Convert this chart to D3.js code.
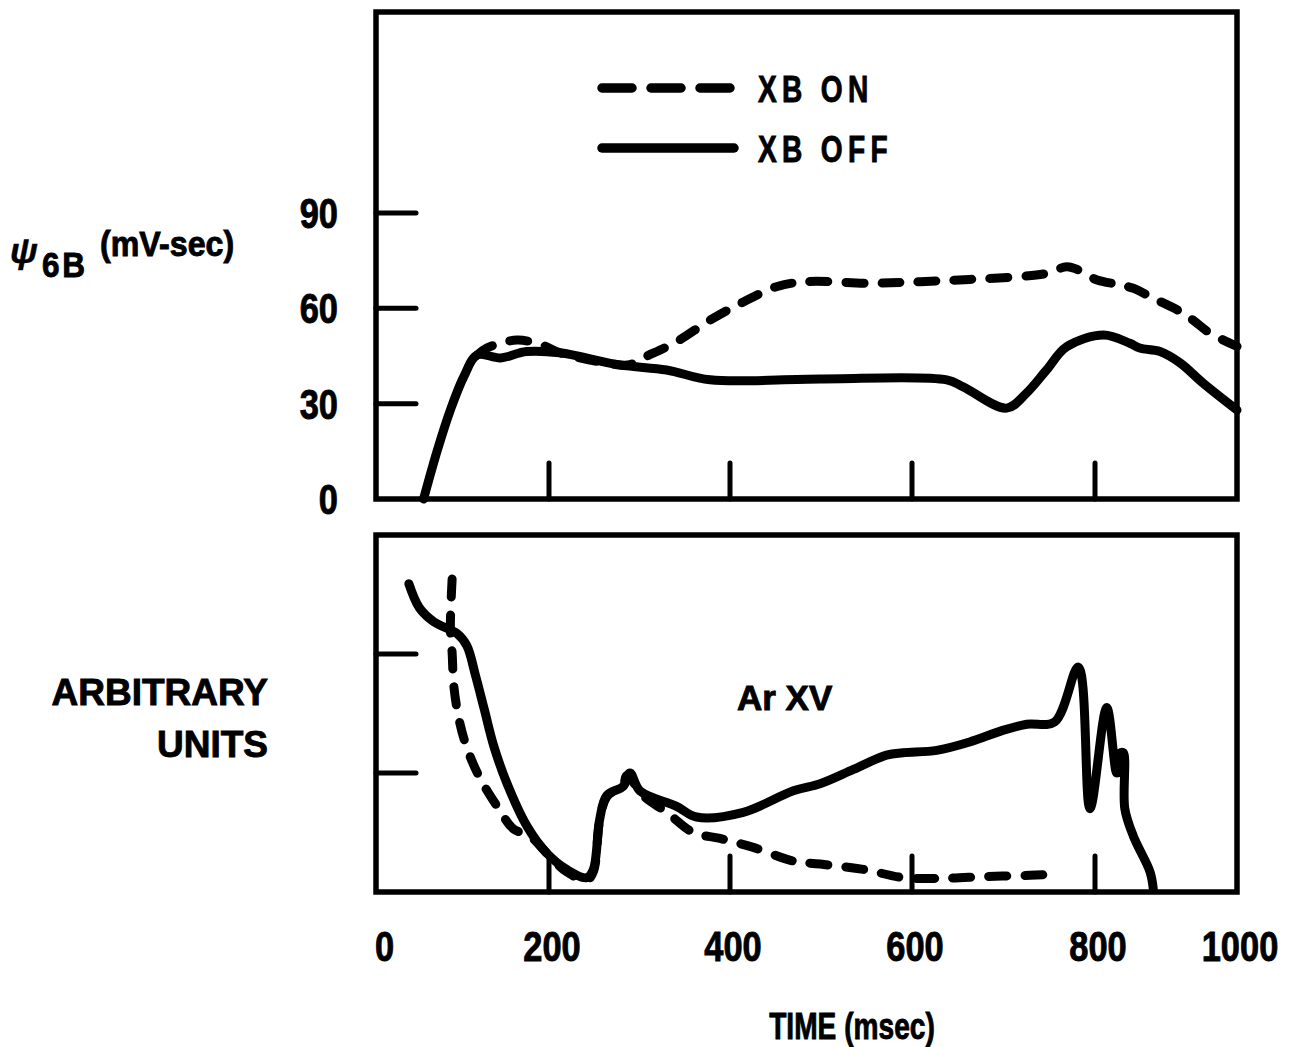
<!DOCTYPE html>
<html>
<head>
<meta charset="utf-8">
<script src="https://cdn.jsdelivr.net/npm/d3@7"></script>
<style>
  html, body { margin: 0; padding: 0; background: #fff; }
  svg { display: block; }
  text { font-family: "Liberation Sans", Arial, sans-serif; font-weight: bold; fill: #000; stroke: #000; stroke-width: 0.9px; }
</style>
</head>
<body>
<svg id="chart" width="1292" height="1047"></svg>
<script>
// ---------------- DATA ----------------
const xTickValues = [0, 200, 400, 600, 800, 1000];
const xTickLabels = ["0", "200", "400", "600", "800", "1000"];
const xInnerTicks = [200, 400, 600, 800];

const topYTicks = [0, 30, 60, 90];
const topYTickLabels = ["0", "30", "60", "90"];
const botYTicks = [1, 2];

const seriesNames = ["XB ON", "XB OFF"];

// psi_6B (mV-sec), XB OFF (solid)
const psiOffT = [55, 71, 86, 101.5, 117, 144, 174, 212, 278, 330, 378, 499, 638, 656, 703.5, 725, 747, 769, 812, 849, 863, 891.5, 920, 952, 1000];
const psiOffV = [0, 15.4, 28, 38.5, 45.3, 44.4, 46.4, 46, 42.2, 40.6, 37.5, 37.8, 37.5, 35.3, 28.6, 33.3, 40.6, 47.9, 51.6, 49, 47.5, 46.4, 42.8, 36.5, 28];

// psi_6B (mV-sec), XB ON (dashed)
const psiOnT = [117, 128, 163, 191.6, 212, 278, 289.5, 304, 341, 378, 414.6, 451, 484, 554, 609, 663, 718, 747, 769, 780, 802, 835, 854, 882, 920, 938, 962, 1000];
const psiOnV = [45.3, 47.5, 50, 48.5, 46, 42.2, 42.3, 44.4, 49.5, 56.3, 62, 66.8, 68.4, 67.9, 68.4, 69.1, 70, 71, 73.1, 72.3, 69, 67.4, 66.3, 63.2, 59, 56.3, 52.2, 48];

// Ar XV (arbitrary units), XB OFF (solid)
const arOffT = [38, 50, 67, 94, 105, 115, 125, 136, 151, 174, 197, 219.5, 241.7, 249, 256, 263.8, 282.2, 289.5, 300.5, 341, 363, 414.6, 469.6, 499, 535.6, 572, 590, 627, 663, 700, 725.5, 756, 781.8, 794.5, 816.5, 830.5, 836, 840, 842, 854, 877.5, 882];
const arOffV = [2.59, 2.39, 2.27, 2.17, 2.07, 1.82, 1.54, 1.23, 0.92, 0.56, 0.33, 0.19, 0.12, 0.19, 0.61, 0.81, 0.89, 1.0, 0.85, 0.72, 0.63, 0.67, 0.85, 0.91, 1.03, 1.15, 1.17, 1.19, 1.26, 1.36, 1.41, 1.43, 1.89, 0.70, 1.55, 1.0, 1.17, 1.17, 0.70, 0.47, 0.17, 0.03];

// Ar XV (arbitrary units), XB ON (dashed)
const arOnT = [88, 86, 88, 90, 96, 105.6, 120.7, 140, 159, 178, 197, 219.5, 241.7, 249, 256, 263.8, 282, 286, 304, 330, 359.5, 389, 425.6, 469.6, 499, 546.6, 591, 634, 681.5, 729, 743];
const arOnV = [2.63, 2.21, 2.01, 1.73, 1.45, 1.2, 0.95, 0.72, 0.53, 0.47, 0.33, 0.17, 0.10, 0.17, 0.6, 0.8, 0.9, 0.98, 0.81, 0.67, 0.50, 0.45, 0.375, 0.26, 0.235, 0.19, 0.12, 0.115, 0.13, 0.14, 0.145];

// ---------------- LAYOUT ----------------
const svg = d3.select("#chart");
const box = { left: 376, right: 1237 };
const topPanel = { top: 12, bottom: 499 };
const botPanel = { top: 535, bottom: 892 };

// x: hand-drawn ticks are not evenly spaced relative to the frame
const x = d3.scaleLinear()
  .domain([0, 200, 400, 600, 800, 1000])
  .range([box.left, 549, 730, 912, 1095, box.right]);

const yTop = d3.scaleLinear().domain([0, 90]).range([topPanel.bottom, 213]);
const yBot = d3.scaleLinear().domain([0, 3]).range([botPanel.bottom, botPanel.top]);

const zip = (a, b) => a.map((d, i) => [d, b[i]]);

// condensed text helper: horizontal squeeze of a bold sans
function ctext(parent, tx, ty, str, size, sx, anchor, ls) {
  return parent.append("text")
    .attr("transform", `translate(${tx},${ty}) scale(${sx},1)`)
    .attr("text-anchor", anchor || "start")
    .attr("font-size", size)
    .attr("letter-spacing", ls || 0)
    .text(str);
}

function drawPanel(p, y, yTicks) {
  const g = svg.append("g");
  g.append("rect")
    .attr("x", box.left).attr("y", p.top)
    .attr("width", box.right - box.left).attr("height", p.bottom - p.top)
    .attr("fill", "none").attr("stroke", "#000").attr("stroke-width", 5.5);
  g.selectAll(".yt").data(yTicks).enter().append("line")
    .attr("x1", box.left).attr("x2", box.left + 40)
    .attr("y1", d => y(d)).attr("y2", d => y(d))
    .attr("stroke", "#000").attr("stroke-width", 5).attr("stroke-linecap", "round");
  g.selectAll(".xt").data(xInnerTicks).enter().append("line")
    .attr("x1", d => x(d)).attr("x2", d => x(d))
    .attr("y1", p.bottom).attr("y2", p.bottom - 36)
    .attr("stroke", "#000").attr("stroke-width", 5).attr("stroke-linecap", "round");
  return g;
}

drawPanel(topPanel, yTop, topYTicks.filter(d => d > 0));
drawPanel(botPanel, yBot, botYTicks);

const lineTop = d3.line().x(d => x(d[0])).y(d => yTop(d[1])).curve(d3.curveCatmullRom.alpha(0.5));
const lineBot = d3.line().x(d => x(d[0])).y(d => yBot(d[1])).curve(d3.curveCatmullRom.alpha(0.5));

function path(d, gen, dashed) {
  svg.append("path")
    .attr("d", gen(d))
    .attr("fill", "none")
    .attr("stroke", "#000")
    .attr("stroke-width", 9)
    .attr("stroke-linecap", "round")
    .attr("stroke-linejoin", "round")
    .attr("stroke-dasharray", dashed ? "18,18" : null);
}

path(zip(psiOffT, psiOffV), lineTop, false);
path(zip(psiOnT, psiOnV), lineTop, true);
path(zip(arOffT, arOffV), lineBot, false);
path(zip(arOnT, arOnV), lineBot, true);

// ---------------- LEGEND ----------------
const legend = [
  { name: seriesNames[0], dashed: true, y: 88 },
  { name: seriesNames[1], dashed: false, y: 148 }
];
legend.forEach(l => {
  svg.append("line")
    .attr("x1", 602).attr("x2", 734).attr("y1", l.y).attr("y2", l.y)
    .attr("stroke", "#000").attr("stroke-width", 9.5).attr("stroke-linecap", "round")
    .attr("stroke-dasharray", l.dashed ? "30,19" : null);
  ctext(svg, 758, l.y + 14, l.name, 37, 0.76, "start", 7);
});

// ---------------- AXIS LABELS ----------------
topYTicks.forEach((v, i) => ctext(svg, 338, yTop(v) + 15, topYTickLabels[i], 42, 0.82, "end"));

xTickValues.forEach((v, i) => {
  const px = x(v);
  ctext(svg, i === 0 ? px - 1 : px + 3, 961, xTickLabels[i], 42, 0.82, i === 0 ? "start" : "middle");
});

// x axis title
ctext(svg, 852, 1039, "TIME (msec)", 37, 0.76, "middle");

// top y-axis title: psi_6B (mV-sec)
svg.append("text").attr("x", 10).attr("y", 263)
  .attr("font-family", "DejaVu Serif, serif").attr("font-style", "italic")
  .attr("font-weight", "normal").attr("font-size", 36).style("stroke-width", "0.4px").text("ψ");
ctext(svg, 42, 277, "6B", 35, 0.9, "start", 3);
ctext(svg, 100, 256, "(mV-sec)", 35, 0.92, "start");

// bottom y-axis title
svg.append("text")
  .attr("x", 268).attr("y", 705).attr("text-anchor", "end").attr("font-size", 37)
  .text("ARBITRARY");
svg.append("text")
  .attr("x", 268).attr("y", 757).attr("text-anchor", "end").attr("font-size", 37)
  .text("UNITS");

// line label
svg.append("text")
  .attr("x", 737).attr("y", 710).attr("font-size", 35)
  .text("Ar XV");
</script>
</body>
</html>
